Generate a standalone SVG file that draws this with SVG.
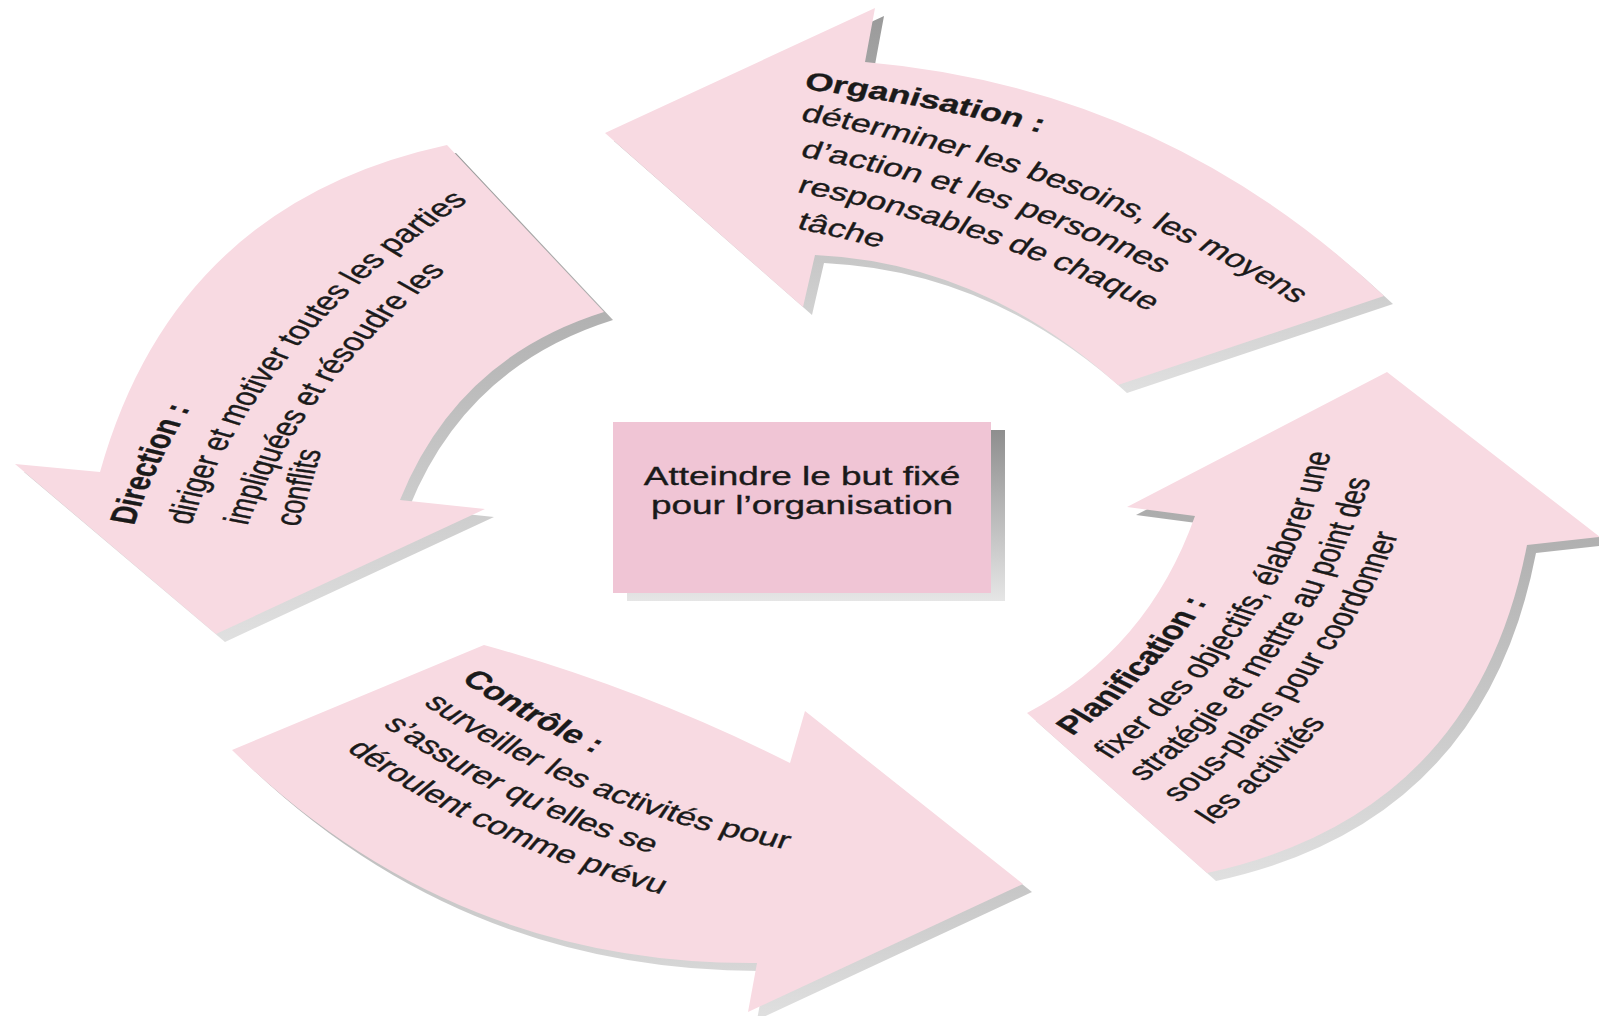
<svg xmlns="http://www.w3.org/2000/svg" width="1599" height="1016" viewBox="0 0 1599 1016">
<style>
.arrow{fill:#f8dae2}
.shadow{fill:url(#shgrad)}
.t{font-family:"Liberation Sans",Arial,Helvetica,sans-serif;font-size:25px;fill:#1a1a1a;stroke:#1a1a1a;stroke-width:0.35px}
.b{font-weight:bold}
</style>
<defs>
<linearGradient id="shgrad" x1="0" y1="0" x2="0" y2="1">
<stop offset="0" stop-color="#9a9a9a"/>
<stop offset="1" stop-color="#e0e0e0"/>
</linearGradient>
<linearGradient id="boxsh" x1="0" y1="0" x2="0" y2="1">
<stop offset="0" stop-color="#8e8e8e"/>
<stop offset="1" stop-color="#e6e6e6"/>
</linearGradient>
<path id="p-org" d="M 605 133 L 875 8 L 865 62 Q 1164 88 1384 296 L 1118 385 Q 983 263 815 255 L 803 307 Z"/>
<path id="p-dir" d="M 447 145 L 604 312 Q 457 358 400 500 L 485 509 L 216 634 L 15 464 L 100 472 Q 175 204 447 145 Z"/>
<path id="p-pla" d="M 1027 713 Q 1148 649 1195 516 L 1127 507 L 1387 372 L 1600 537 L 1527 545 Q 1475 815 1207 873 Z"/>
<path id="p-con" d="M 232 750 L 484 645 Q 643 689 790 763 L 805 711 L 1023 884 L 748 1012 L 757 963 Q 451 965 232 750 Z"/>
<!-- text paths (unscaled space, x / 1.45) -->
<path id="o1" d="M 380 73.6 A 991 991 0 0 1 1371 1064.6"/>
<path id="o2" d="M 354.6 95.6 A 800 800 0 0 1 1154.6 895.6"/>
<path id="o3" d="M 354.6 130.6 A 765 765 0 0 1 1119.6 895.6"/>
<path id="o4" d="M 354.6 165.6 A 730 730 0 0 1 1084.6 895.6"/>
<path id="o5" d="M 354.6 200.6 A 695 695 0 0 1 1049.6 895.6"/>
<path id="d1" d="M 73.9 685 A 698 698 0 0 1 771.9 -13"/>
<path id="d2" d="M 111.9 685 A 660 660 0 0 1 771.9 25"/>
<path id="d3" d="M 149.9 685 A 622 622 0 0 1 771.9 63"/>
<path id="d4" d="M 206 527 L 246.7 328.8"/>
<path id="l1" d="M 326.6 915.6 A 565 565 0 0 0 326.6 -214.4"/>
<path id="l2" d="M 326.6 950.6 A 600 600 0 0 0 326.6 -249.4"/>
<path id="l3" d="M 326.6 982.6 A 632 632 0 0 0 326.6 -281.4"/>
<path id="l4" d="M 326.6 1014.6 A 664 664 0 0 0 326.6 -313.4"/>
<path id="l5" d="M 326.6 1046.6 A 696 696 0 0 0 326.6 -345.4"/>
<path id="c1" d="M 162 306 A 528 528 0 0 0 690 834"/>
<path id="c2" d="M 127 306 A 563 563 0 0 0 690 869"/>
<path id="c3" d="M 92 306 A 598 598 0 0 0 690 904"/>
<path id="c4" d="M 57 306 A 633 633 0 0 0 690 939"/>
</defs>
<rect width="1599" height="1016" fill="#ffffff"/>
<g id="connectors"/>
<g id="organisation">
<use href="#p-org" class="shadow" transform="translate(9,8)"/>
<use href="#p-org" class="arrow"/>
<g transform="scale(1.45,1)">
<text class="t b"><textPath href="#o1" startOffset="175">Organisation :</textPath></text>
<text class="t"><textPath href="#o2" startOffset="199">déterminer les besoins, les moyens</textPath></text>
<text class="t"><textPath href="#o3" startOffset="199">d’action et les personnes</textPath></text>
<text class="t"><textPath href="#o4" startOffset="197">responsables de chaque</textPath></text>
<text class="t"><textPath href="#o5" startOffset="197">tâche</textPath></text>
</g>
</g>
<g id="direction">
<use href="#p-dir" class="shadow" transform="translate(9,8)"/>
<use href="#p-dir" class="arrow"/>
<g transform="scale(1.45,1)">
<text class="t b"><textPath href="#d1" startOffset="161">Direction :</textPath></text>
<text class="t"><textPath href="#d2" startOffset="161">diriger et motiver toutes les parties</textPath></text>
<text class="t"><textPath href="#d3" startOffset="161">impliquées et résoudre les</textPath></text>
<text class="t"><textPath href="#d4">conflits</textPath></text>
</g>
</g>
<g id="planification">
<use href="#p-pla" class="shadow" transform="translate(9,8)"/>
<use href="#p-pla" class="arrow"/>
<g transform="scale(1.45,1)">
<text class="t b"><textPath href="#l1" startOffset="463">Planification :</textPath></text>
<text class="t"><textPath href="#l2" startOffset="492">fixer des objectifs, élaborer une</textPath></text>
<text class="t"><textPath href="#l3" startOffset="518">stratégie et mettre au point des</textPath></text>
<text class="t"><textPath href="#l4" startOffset="545">sous-plans pour coordonner</textPath></text>
<text class="t"><textPath href="#l5" startOffset="571">les activités</textPath></text>
</g>
</g>
<g id="controle">
<use href="#p-con" class="shadow" transform="translate(9,8)"/>
<use href="#p-con" class="arrow"/>
<g transform="scale(1.45,1)">
<text class="t b"><textPath href="#c1" startOffset="416">Contrôle :</textPath></text>
<text class="t"><textPath href="#c2" startOffset="442">surveiller les activités pour</textPath></text>
<text class="t"><textPath href="#c3" startOffset="465">s’assurer qu’elles se</textPath></text>
<text class="t"><textPath href="#c4" startOffset="492">déroulent comme prévu</textPath></text>
</g>
</g>
<g id="but">
<rect x="627" y="430" width="378" height="171" fill="url(#boxsh)"/>
<rect x="613" y="422" width="378" height="171" fill="#f0c5d5"/>
<g transform="scale(1.45,1)">
<text class="t" style="font-size:25.5px" x="553.1" y="485" text-anchor="middle">Atteindre le but fixé</text>
<text class="t" style="font-size:25.5px" x="553.1" y="514" text-anchor="middle">pour l’organisation</text>
</g>
</g>
</svg>
